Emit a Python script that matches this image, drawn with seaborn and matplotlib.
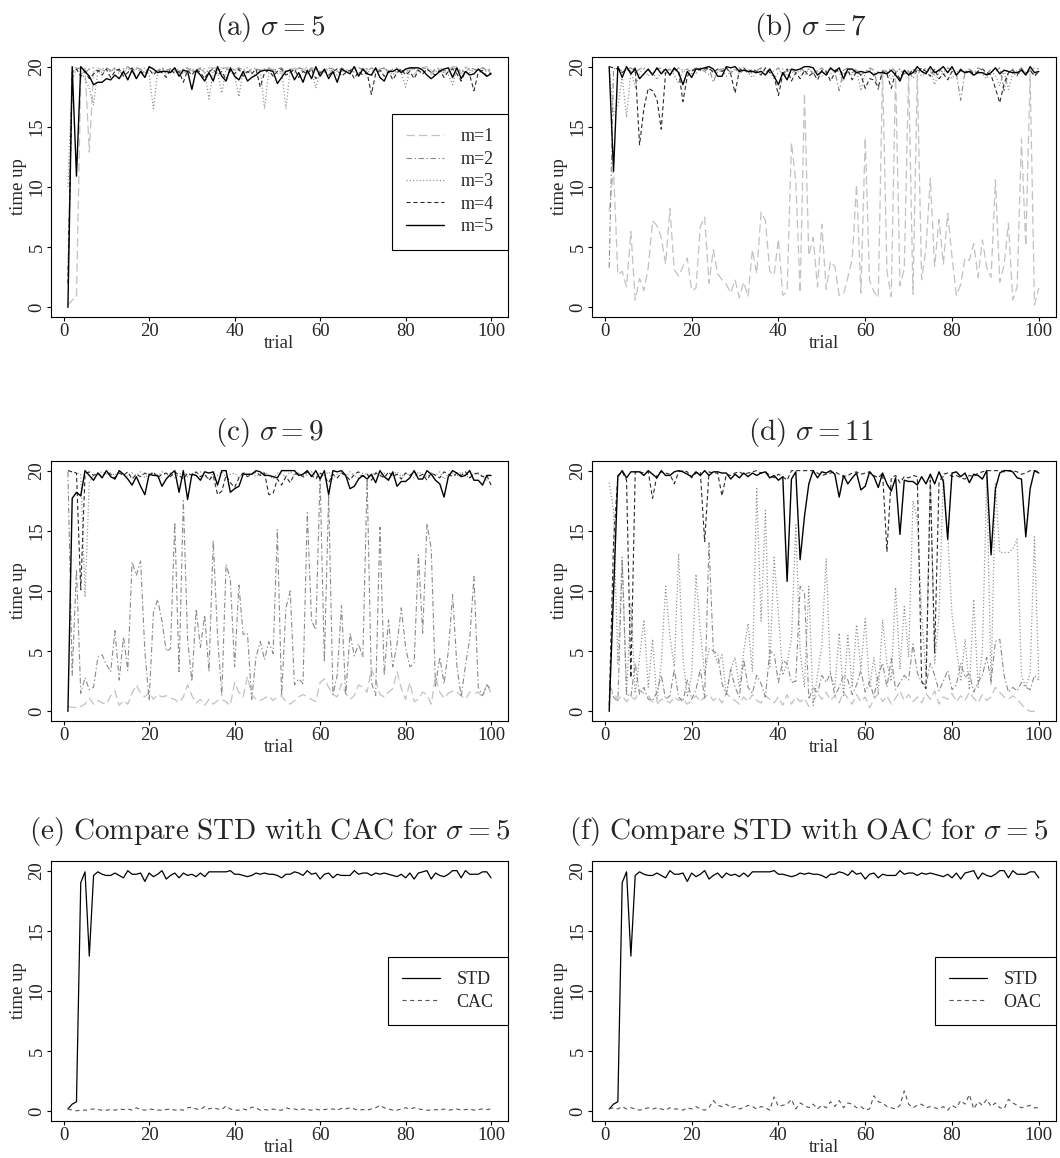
import numpy as np
import pandas as pd
import seaborn as sns
import matplotlib
matplotlib.use("Agg")
import matplotlib.pyplot as plt

sns.set_style("white")
plt.rcParams['font.family'] = ['Liberation Serif', 'DejaVu Serif']
plt.rcParams['mathtext.fontset'] = 'cm'
plt.rcParams['lines.scale_dashes'] = False

trial = list(range(1, 101))
x_ticks = [0, 20, 40, 60, 80, 100]
y_ticks = [0, 5, 10, 15, 20]
series_names = ["m=1", "m=2", "m=3", "m=4", "m=5"]

# ---------------- STD / CAC / OAC (sigma = 5) ----------------
std = [0.2, 0.6, 0.8, 19.0, 19.9, 12.9, 19.6, 19.9, 19.7, 19.6,
       19.6, 19.8, 19.6, 19.4, 20.0, 19.7, 19.7, 19.8, 19.1, 19.8,
       19.5, 19.7, 20.0, 19.3, 19.6, 19.8, 19.4, 19.8, 19.6, 19.7,
       19.5, 19.8, 19.5, 19.9, 19.9, 19.9, 19.9, 19.9, 20.0, 19.7,
       19.7, 19.6, 19.5, 19.6, 19.8, 19.7, 19.8, 19.7, 19.7, 19.6,
       19.4, 19.7, 19.7, 19.9, 19.8, 19.6, 20.0, 19.7, 19.8, 19.3,
       19.7, 19.8, 19.4, 19.7, 19.6, 19.6, 19.6, 20.0, 19.7, 19.8,
       19.8, 19.6, 19.8, 19.7, 19.8, 19.7, 19.6, 19.5, 19.7, 19.4,
       19.8, 19.3, 19.8, 19.9, 20.0, 19.3, 19.8, 19.6, 19.5, 19.7,
       20.0, 20.0, 19.4, 20.0, 19.7, 19.7, 19.7, 19.9, 19.9, 19.4]

cac = [0.20, 0.10, 0.05, 0.10, 0.10, 0.15, 0.20, 0.15, 0.10, 0.10,
       0.15, 0.10, 0.20, 0.15, 0.20, 0.10, 0.30, 0.15, 0.10, 0.20,
       0.15, 0.10, 0.10, 0.15, 0.20, 0.10, 0.15, 0.10, 0.30, 0.35,
       0.20, 0.15, 0.40, 0.20, 0.30, 0.20, 0.15, 0.45, 0.20, 0.10,
       0.10, 0.20, 0.10, 0.35, 0.30, 0.10, 0.15, 0.10, 0.20, 0.10,
       0.10, 0.30, 0.20, 0.20, 0.10, 0.20, 0.15, 0.10, 0.20, 0.10,
       0.15, 0.20, 0.20, 0.10, 0.25, 0.20, 0.30, 0.20, 0.10, 0.15,
       0.10, 0.20, 0.30, 0.50, 0.30, 0.20, 0.10, 0.10, 0.20, 0.30,
       0.20, 0.30, 0.20, 0.15, 0.10, 0.10, 0.15, 0.10, 0.20, 0.10,
       0.15, 0.20, 0.10, 0.15, 0.20, 0.10, 0.15, 0.20, 0.15, 0.20]

oac = [0.20, 0.30, 0.20, 0.40, 0.20, 0.30, 0.20, 0.10, 0.20, 0.30,
       0.20, 0.30, 0.20, 0.10, 0.30, 0.20, 0.20, 0.10, 0.30, 0.20,
       0.40, 0.20, 0.10, 0.30, 0.90, 0.50, 0.40, 0.60, 0.30, 0.40,
       0.20, 0.30, 0.50, 0.40, 0.20, 0.40, 0.30, 0.10, 1.20, 0.40,
       0.50, 0.60, 1.00, 0.20, 0.70, 0.50, 0.30, 0.60, 0.20, 0.50,
       0.30, 0.80, 0.40, 0.90, 0.30, 0.70, 0.60, 0.30, 0.40, 0.10,
       0.20, 1.30, 0.80, 0.70, 0.40, 0.30, 0.20, 0.50, 1.70, 0.60,
       0.30, 0.50, 0.60, 0.30, 0.40, 0.30, 0.20, 0.40, 0.10, 0.50,
       0.30, 0.90, 0.60, 1.40, 0.20, 0.80, 0.50, 1.00, 0.40, 0.70,
       0.30, 0.20, 1.00, 0.70, 0.50, 0.30, 0.40, 0.50, 0.30, 0.30]

# ---------------- (a) sigma = 5 ----------------
a_m1 = std
a_m2 = [3.0, 19.0, 19.8, 19.9, 19.5, 19.8, 19.9, 19.6, 19.8, 19.9,
        19.7, 19.9, 19.6, 19.8, 20.0, 19.7, 19.9, 19.8, 19.5, 19.9,
        19.8, 19.6, 19.9, 19.7, 19.8, 19.9, 19.5, 19.8, 19.9, 19.6,
        19.7, 19.9, 19.8, 19.5, 19.9, 19.7, 19.8, 19.9, 19.6, 19.8,
        19.9, 19.7, 19.5, 19.8, 19.9, 19.6, 19.8, 19.9, 19.7, 19.8,
        19.9, 19.5, 19.8, 19.7, 19.9, 19.8, 19.6, 19.9, 19.8, 19.5,
        19.7, 19.9, 19.8, 19.6, 19.9, 19.7, 19.8, 19.5, 19.9, 19.8,
        19.6, 19.9, 19.7, 19.8, 19.9, 19.5, 19.8, 19.9, 19.7, 19.6,
        19.9, 19.8, 19.7, 19.9, 19.8, 19.5, 19.8, 19.9, 19.7, 19.6,
        19.9, 19.8, 19.7, 19.5, 19.9, 19.8, 19.6, 19.9, 19.7, 19.8]
a_m3 = [10.0, 19.5, 20.0, 19.6, 19.0, 18.2, 16.8, 19.7, 19.5, 19.8,
        19.6, 19.9, 19.4, 19.7, 19.9, 19.5, 19.8, 19.6, 19.9, 19.3,
        16.5, 19.6, 19.8, 19.5, 19.9, 19.6, 19.8, 19.4, 19.7, 19.9,
        19.5, 19.8, 19.6, 17.3, 19.7, 19.5, 17.8, 19.8, 19.6, 19.3,
        17.5, 19.7, 19.9, 19.5, 19.2, 19.8, 16.5, 19.6, 19.8, 19.4,
        19.7, 16.5, 19.8, 19.5, 19.9, 19.6, 19.4, 19.8, 18.2, 19.7,
        19.5, 19.9, 19.6, 19.3, 19.8, 19.5, 19.7, 19.9, 19.4, 19.6,
        19.8, 19.2, 19.7, 19.5, 19.9, 19.6, 19.3, 19.8, 19.5, 18.3,
        19.7, 19.9, 19.6, 19.4, 19.8, 19.7, 19.5, 19.9, 19.6, 19.3,
        18.5, 19.8, 19.6, 19.9, 19.5, 19.7, 19.8, 19.4, 19.7, 19.6]
a_m4 = [2.0, 19.5, 19.8, 19.2, 19.6, 19.0, 19.4, 19.7, 19.3, 19.8,
        19.1, 19.6, 19.8, 19.2, 19.5, 19.9, 19.0, 19.6, 19.4, 19.8,
        19.3, 19.7, 19.5, 19.1, 19.8, 19.4, 19.6, 18.7, 19.7, 19.3,
        19.8, 19.5, 19.0, 19.6, 19.8, 19.3, 19.6, 18.9, 19.7, 19.4,
        19.8, 19.2, 19.6, 19.4, 19.8, 18.3, 19.5, 19.7, 19.2, 19.6,
        19.8, 19.3, 19.5, 19.8, 19.1, 19.6, 19.4, 19.8, 19.0, 19.5,
        19.7, 19.3, 19.6, 19.8, 19.2, 19.5, 19.7, 19.0, 19.6, 19.3,
        19.5, 17.7, 19.4, 19.7, 19.2, 19.6, 18.9, 19.5, 19.8, 19.3,
        19.6, 19.0, 19.7, 19.4, 19.8, 19.5, 19.3, 19.7, 19.1, 19.6,
        19.8, 19.4, 18.8, 19.6, 19.3, 18.0, 19.5, 19.7, 19.2, 19.5]
a_m5 = [0.0, 20.0, 10.9, 20.0, 19.6, 19.2, 18.5, 18.7, 18.7, 19.0,
        18.9, 19.3, 19.0, 19.6, 18.9, 19.7, 19.0, 19.6, 19.1, 20.0,
        19.8, 19.5, 19.6, 19.6, 19.5, 19.9, 19.2, 19.7, 19.6, 18.1,
        19.7, 19.3, 18.8, 19.5, 18.8, 20.0, 19.2, 18.8, 19.9, 19.2,
        18.9, 19.6, 18.8, 19.1, 19.3, 19.6, 19.7, 19.7, 19.6, 18.6,
        19.1, 19.6, 19.7, 18.9, 19.5, 18.7, 19.7, 19.0, 20.0, 19.2,
        19.8, 19.0, 19.6, 18.7, 19.8, 19.6, 19.4, 20.0, 19.2, 19.8,
        19.4, 19.3, 19.9, 19.1, 18.8, 19.6, 19.6, 19.8, 19.5, 19.8,
        19.9, 19.9, 19.9, 19.7, 19.3, 19.0, 19.3, 19.6, 19.8, 19.9,
        19.1, 19.9, 19.0, 19.6, 19.3, 19.4, 19.8, 19.5, 19.2, 19.4]

# ---------------- (b) sigma = 7 ----------------
b_m1 = [8.0, 11.5, 2.7, 3.0, 1.7, 6.3, 0.6, 2.4, 1.4, 3.3,
        7.2, 6.8, 5.8, 3.6, 8.2, 3.1, 2.6, 3.4, 4.1, 1.4,
        1.6, 6.7, 7.5, 2.0, 4.8, 2.8, 2.3, 1.9, 1.2, 2.3,
        0.8, 2.1, 0.9, 4.8, 2.8, 7.9, 7.2, 3.0, 2.7, 5.7,
        1.0, 1.3, 13.7, 10.5, 1.2, 17.8, 4.3, 5.8, 1.7, 6.9,
        1.5, 3.8, 3.4, 1.0, 1.1, 2.5, 4.0, 10.2, 1.2, 14.1,
        2.2, 1.3, 0.8, 19.7, 3.0, 0.9, 19.6, 1.8, 3.2, 19.7,
        1.1, 19.3, 2.3, 4.9, 10.7, 3.4, 7.3, 3.6, 7.8, 4.2,
        1.0, 1.9, 4.1, 3.9, 5.3, 2.5, 5.6, 3.3, 2.5, 10.6,
        2.1, 3.5, 7.0, 0.6, 1.7, 14.0, 5.1, 19.4, 0.2, 1.6]
b_m2 = [3.3, 19.8, 19.9, 19.6, 19.8, 19.9, 19.5, 19.8, 19.9, 19.7,
        19.4, 19.8, 19.9, 19.6, 19.8, 19.5, 19.9, 19.7, 19.8, 19.4,
        19.9, 19.8, 19.6, 19.9, 18.7, 19.7, 19.8, 19.9, 19.5, 19.7,
        19.9, 19.6, 19.8, 19.4, 19.7, 19.9, 19.5, 19.8, 19.6, 19.9,
        19.3, 19.7, 19.8, 19.5, 19.9, 19.6, 19.8, 19.4, 19.7, 19.9,
        19.5, 19.8, 19.6, 18.0, 19.7, 19.9, 19.5, 19.8, 19.3, 19.6,
        19.9, 19.7, 18.1, 19.8, 19.5, 19.9, 19.6, 19.8, 19.4, 19.7,
        19.0, 19.8, 19.5, 19.9, 19.6, 19.3, 19.8, 19.5, 19.9, 19.7,
        19.4, 17.2, 19.6, 19.8, 19.5, 19.9, 19.7, 19.4, 19.8, 19.6,
        19.9, 18.0, 19.5, 19.8, 19.6, 19.9, 19.4, 19.7, 19.9, 19.8]
b_m3 = [19.9, 16.0, 16.7, 19.2, 15.8, 19.6, 18.3, 19.5, 19.8, 19.2,
        19.6, 18.9, 19.7, 19.4, 19.8, 19.3, 18.6, 19.7, 19.5, 19.8,
        19.4, 19.9, 19.6, 19.3, 19.8, 19.5, 19.7, 19.2, 19.6, 19.8,
        19.4, 19.7, 19.5, 19.1, 19.6, 19.8, 19.3, 19.7, 19.0, 19.5,
        19.8, 19.2, 19.6, 19.4, 19.7, 19.3, 19.8, 19.5, 19.6, 19.2,
        19.7, 19.4, 19.8, 19.5, 18.8, 19.6, 19.3, 19.7, 18.0, 19.5,
        19.8, 19.2, 19.6, 19.4, 19.7, 19.0, 19.5, 19.8, 19.3, 19.6,
        19.4, 19.7, 19.2, 19.5, 19.8, 18.5, 19.6, 19.3, 19.7, 19.0,
        19.5, 19.8, 19.4, 19.6, 19.2, 19.7, 19.4, 19.0, 19.6, 19.3,
        18.4, 19.7, 18.1, 19.5, 19.2, 19.8, 19.5, 19.7, 19.3, 19.6]
b_m4 = [20.0, 19.9, 19.8, 19.5, 19.8, 19.6, 19.9, 13.5, 16.5, 18.2,
        18.0, 17.3, 14.8, 19.5, 19.3, 19.8, 19.6, 17.1, 19.2, 19.6,
        19.9, 19.7, 19.8, 19.9, 19.5, 19.8, 19.6, 19.9, 19.4, 17.8,
        19.7, 19.9, 19.5, 19.8, 19.6, 19.3, 19.9, 19.5, 19.2, 17.6,
        19.4, 19.8, 18.8, 19.5, 19.0, 19.7, 19.2, 19.5, 18.9, 19.7,
        19.6, 18.8, 19.5, 19.8, 19.3, 19.7, 18.9, 19.6, 19.3, 18.2,
        19.0, 18.9, 18.3, 19.6, 19.4, 18.2, 19.5, 19.0, 19.7, 19.3,
        19.8, 19.5, 19.9, 19.6, 19.2, 19.8, 19.0, 19.4, 18.9, 19.6,
        19.3, 19.8, 19.5, 19.7, 19.4, 19.6, 19.8, 19.5, 19.3, 18.2,
        17.0, 18.6, 19.5, 19.7, 19.3, 19.8, 19.4, 19.7, 19.2, 19.6]
b_m5 = [20.0, 11.3, 20.0, 19.1, 20.0, 19.4, 19.8, 19.0, 19.4, 19.8,
        19.3, 19.9, 19.4, 19.8, 19.3, 19.9, 19.5, 18.5, 19.6, 19.1,
        19.8, 19.8, 19.9, 20.0, 19.8, 19.2, 19.2, 20.0, 19.9, 20.0,
        19.6, 19.7, 19.6, 19.6, 19.5, 19.6, 19.3, 19.8, 19.2, 18.5,
        19.5, 18.9, 19.8, 19.7, 19.8, 20.0, 20.0, 19.9, 19.3, 19.6,
        19.3, 19.9, 19.6, 19.9, 19.0, 19.8, 19.8, 19.5, 19.6, 19.5,
        19.6, 19.3, 19.5, 19.5, 19.4, 19.7, 19.3, 18.8, 19.7, 19.3,
        19.5, 20.0, 19.6, 19.4, 20.0, 19.5, 19.7, 20.0, 19.5, 20.0,
        19.3, 19.7, 19.5, 19.6, 19.3, 19.5, 19.5, 19.3, 19.5, 19.9,
        19.4, 19.7, 19.6, 19.5, 19.5, 19.7, 19.3, 20.0, 19.5, 19.6]

# ---------------- (c) sigma = 9 ----------------
c_m1 = [0.4, 0.35, 0.3, 0.4, 0.6, 1.1, 0.6, 0.9, 0.7, 0.6,
        1.3, 1.7, 0.5, 0.9, 0.6, 1.5, 2.2, 1.5, 1.2, 1.6,
        1.0, 1.4, 1.2, 1.3, 1.1, 1.0, 0.7, 1.2, 2.2, 1.3,
        0.7, 1.0, 0.5, 1.0, 0.6, 0.9, 1.0, 0.8, 0.5, 2.4,
        1.6, 1.2, 2.9, 1.4, 1.0, 0.9, 1.1, 1.3, 0.9, 1.2,
        1.3, 0.8, 0.6, 0.9, 1.2, 1.4, 1.2, 1.0, 0.8, 2.4,
        2.7, 2.0, 1.4, 1.2, 2.3, 1.5, 1.0, 1.3, 2.2, 2.0,
        1.6, 3.5, 2.6, 1.4, 1.2, 1.6, 1.9, 3.3, 1.9, 1.0,
        2.4, 0.8, 1.0, 1.6, 1.4, 0.6, 2.9, 1.6, 1.1, 1.5,
        1.7, 1.6, 1.3, 1.0, 1.6, 1.5, 1.6, 1.2, 2.3, 1.5]
c_m2 = [19.9, 3.0, 11.8, 1.5, 2.8, 1.8, 2.0, 4.5, 4.7, 3.9,
        3.3, 6.7, 2.6, 6.2, 3.4, 12.4, 11.3, 12.5, 5.0, 0.9,
        8.2, 9.3, 7.5, 5.0, 5.2, 15.7, 3.3, 17.5, 6.0, 2.5,
        8.5, 5.3, 8.0, 3.3, 14.2, 6.3, 1.3, 12.2, 11.0, 3.7,
        10.5, 6.4, 6.5, 1.0, 4.5, 5.8, 4.3, 5.8, 4.8, 15.1,
        1.3, 8.6, 10.0, 2.2, 2.7, 2.3, 16.5, 7.5, 6.8, 19.5,
        4.1, 18.0, 1.4, 3.0, 8.8, 1.4, 6.5, 4.6, 5.6, 4.5,
        19.3, 2.4, 1.3, 15.3, 3.0, 7.6, 3.7, 5.6, 8.6, 5.3,
        3.7, 4.0, 13.0, 6.5, 15.6, 13.5, 2.1, 4.5, 2.3, 5.0,
        9.7, 3.8, 1.2, 3.8, 6.0, 11.2, 2.0, 1.3, 2.2, 1.8]
c_m3 = [20.0, 19.9, 19.8, 19.7, 9.5, 19.0, 19.6, 19.8, 19.9, 19.7,
        19.8, 19.6, 19.9, 19.7, 19.5, 19.8, 19.6, 19.9, 19.4, 19.7,
        19.8, 19.5, 19.9, 19.6, 19.8, 19.4, 19.7, 19.9, 19.5, 19.8,
        19.6, 19.9, 19.7, 19.3, 19.8, 19.6, 19.9, 19.5, 19.7, 19.8,
        19.4, 19.9, 19.6, 19.8, 19.5, 19.7, 19.9, 19.6, 19.3, 19.8,
        19.7, 19.5, 19.9, 19.6, 19.8, 19.4, 19.7, 19.9, 19.5, 19.8,
        19.6, 19.9, 19.3, 19.7, 19.8, 19.5, 19.9, 19.6, 19.4, 19.8,
        19.7, 19.5, 19.9, 19.6, 19.8, 19.3, 19.7, 19.9, 19.5, 19.8,
        19.6, 19.4, 19.9, 19.7, 19.5, 19.8, 19.6, 19.9, 19.3, 19.7,
        19.8, 19.5, 19.9, 19.6, 19.4, 19.8, 19.7, 19.5, 19.2, 19.0]
c_m4 = [20.0, 19.9, 19.8, 10.1, 19.7, 19.9, 19.6, 19.8, 19.5, 19.9,
        19.7, 19.4, 19.8, 19.6, 19.9, 19.3, 19.7, 19.5, 19.8, 19.6,
        19.9, 19.4, 19.7, 19.8, 19.5, 19.9, 19.6, 19.3, 19.8, 19.6,
        19.9, 19.5, 19.7, 19.2, 19.6, 18.0, 18.3, 19.6, 19.0, 18.6,
        19.4, 19.8, 19.5, 19.7, 19.9, 19.6, 19.8, 18.0, 18.1, 19.3,
        18.8, 19.5, 19.0, 19.7, 19.8, 19.5, 19.9, 19.6, 19.3, 19.8,
        19.5, 19.0, 19.7, 19.4, 19.8, 19.6, 19.2, 19.7, 19.9, 19.5,
        19.7, 19.2, 19.8, 19.6, 19.4, 19.9, 19.5, 19.7, 19.3, 19.8,
        19.6, 19.9, 19.5, 19.7, 19.2, 19.8, 19.6, 19.4, 19.9, 19.7,
        19.5, 19.8, 19.6, 19.9, 19.4, 19.7, 19.8, 19.5, 19.6, 18.8]
c_m5 = [0.0, 17.7, 18.2, 17.9, 20.0, 19.6, 19.2, 19.8, 19.4, 20.0,
        19.5, 19.3, 20.0, 19.7, 19.3, 18.8, 19.5, 18.7, 18.0, 19.7,
        19.6, 19.6, 18.7, 19.3, 19.7, 20.0, 18.2, 20.0, 17.6, 19.7,
        19.6, 19.2, 19.9, 19.8, 19.9, 18.8, 20.0, 20.0, 18.2, 18.5,
        18.7, 19.7, 19.7, 19.7, 20.0, 19.9, 19.6, 19.6, 19.5, 19.4,
        20.0, 20.0, 20.0, 20.0, 19.6, 19.7, 20.0, 19.5, 20.0, 19.3,
        20.0, 18.0, 20.0, 19.9, 20.0, 19.6, 18.5, 18.7, 19.3, 19.6,
        19.3, 19.7, 19.0, 20.0, 19.5, 19.2, 19.9, 18.7, 19.1, 19.1,
        19.4, 20.0, 19.3, 19.3, 20.0, 19.7, 19.2, 18.9, 17.8, 19.5,
        20.0, 19.8, 19.5, 19.6, 20.0, 19.2, 19.2, 18.8, 19.6, 19.6]

# ---------------- (d) sigma = 11 ----------------
d_m1 = [2.2, 1.5, 1.0, 1.3, 0.8, 1.2, 1.0, 1.8, 1.5, 1.3,
        0.8, 0.6, 1.0, 0.9, 0.7, 1.2, 0.9, 1.1, 0.6, 0.9,
        1.3, 0.8, 1.2, 1.4, 0.9, 1.2, 0.7, 1.5, 1.1, 0.9,
        0.6, 1.2, 0.8, 1.4, 0.9, 0.7, 1.3, 1.0, 0.7, 1.2,
        0.5, 1.4, 0.6, 1.2, 0.8, 1.1, 0.4, 0.8, 1.5, 1.0,
        1.6, 0.9, 1.3, 0.7, 1.6, 1.1, 0.6, 1.4, 0.8, 1.2,
        0.3, 1.0, 1.5, 0.8, 1.3, 0.6, 1.1, 1.7, 0.9, 1.4,
        0.8, 1.2, 0.7, 1.5, 1.0, 1.7, 0.6, 1.2, 1.0, 1.5,
        0.8, 1.3, 0.9, 1.6, 1.1, 0.7, 1.4, 0.9, 1.2, 2.0,
        1.6, 1.2, 1.0, 1.3, 1.0, 0.6, 0.2, 0.0, 0.0, 0.0]
d_m2 = [2.2, 1.2, 0.8, 12.5, 1.5, 1.2, 4.0, 1.4, 2.0, 1.0,
        0.9, 1.6, 3.0, 1.0, 1.3, 3.5, 1.2, 0.8, 2.6, 1.0,
        1.8, 3.5, 1.1, 14.0, 5.0, 4.8, 2.3, 1.4, 3.5, 2.0,
        1.2, 4.3, 2.0, 1.5, 3.0, 2.3, 1.2, 5.0, 4.8, 2.4,
        4.2, 4.0, 2.4, 2.5, 10.4, 9.8, 1.0, 2.0, 1.5, 3.0,
        2.4, 3.2, 1.3, 2.0, 3.0, 2.6, 1.4, 2.2, 3.4, 1.6,
        2.5, 1.2, 3.0, 4.0, 2.0, 4.4, 1.8, 2.4, 3.0, 2.6,
        5.6, 3.2, 2.4, 2.2, 4.0, 3.0, 1.7, 2.5, 3.4, 1.8,
        2.2, 4.0, 2.8, 3.2, 1.6, 2.4, 3.0, 4.5, 2.5, 5.8,
        6.0, 3.0, 1.6, 2.0, 1.7, 2.4, 2.0, 1.8, 3.0, 2.6]
d_m3 = [19.0, 16.7, 4.0, 12.8, 1.3, 9.0, 1.5, 4.5, 7.6, 2.0,
        6.0, 0.8, 4.0, 10.4, 6.2, 3.7, 13.1, 4.5, 1.2, 3.0,
        11.4, 6.7, 3.0, 5.2, 5.0, 4.0, 4.7, 1.3, 3.5, 4.5,
        2.0, 5.0, 7.3, 3.3, 18.5, 7.5, 16.7, 3.7, 12.8, 8.0,
        3.0, 4.0, 6.0, 15.5, 5.0, 2.0, 10.4, 0.5, 3.0, 5.5,
        12.7, 3.0, 2.0, 6.5, 1.2, 6.3, 2.0, 7.2, 3.5, 7.7,
        2.0, 4.5, 1.5, 7.6, 4.0, 2.5, 10.3, 3.5, 8.7, 4.5,
        17.5, 15.9, 8.0, 3.0, 19.7, 4.0, 8.0, 19.5, 14.7, 8.0,
        5.2, 2.5, 6.0, 1.8, 9.3, 2.0, 5.0, 19.5, 2.2, 19.0,
        13.2, 13.2, 13.2, 13.5, 14.3, 3.0, 2.0, 3.2, 14.5, 2.8]
d_m4 = [0.5, 14.0, 19.6, 19.9, 19.2, 2.8, 19.9, 19.9, 19.8, 19.9,
        17.7, 19.6, 19.9, 19.8, 19.7, 18.9, 19.9, 20.0, 19.9, 19.4,
        19.8, 19.9, 14.1, 19.9, 19.8, 19.8, 17.9, 19.7, 19.6, 19.8,
        19.9, 19.7, 19.8, 19.9, 20.0, 19.8, 19.9, 19.6, 19.4, 19.7,
        19.5, 19.2, 20.0, 20.0, 20.0, 20.0, 20.0, 20.0, 19.8, 19.6,
        19.7, 19.8, 19.9, 19.7, 19.5, 19.6, 19.8, 19.9, 19.7, 19.8,
        19.9, 19.6, 19.4, 19.8, 13.3, 19.4, 19.6, 19.0, 19.5, 19.4,
        19.6, 19.5, 2.5, 1.9, 19.2, 4.9, 19.0, 19.7, 19.8, 19.5,
        19.6, 19.4, 19.3, 19.6, 19.5, 19.8, 19.9, 20.0, 20.0, 20.0,
        20.0, 19.9, 20.0, 20.0, 19.9, 19.7, 19.8, 20.0, 20.0, 19.9]
d_m5 = [0.0, 9.8, 19.5, 20.0, 19.4, 19.9, 19.9, 19.9, 19.6, 20.0,
        19.7, 19.4, 20.0, 19.6, 19.6, 19.9, 20.0, 19.9, 19.7, 19.5,
        19.9, 19.6, 20.0, 19.6, 19.9, 19.9, 19.8, 19.8, 19.3, 19.7,
        19.4, 19.8, 19.5, 19.8, 19.6, 19.8, 19.9, 19.4, 19.6, 19.2,
        19.5, 10.8, 19.3, 19.9, 12.6, 16.2, 18.9, 20.0, 19.4, 19.9,
        19.8, 20.0, 19.7, 17.8, 19.6, 18.9, 19.4, 19.8, 18.4, 18.7,
        19.9, 19.5, 18.6, 19.8, 18.9, 18.3, 19.4, 14.7, 19.2, 19.1,
        19.1, 18.8, 19.5, 18.9, 19.7, 18.9, 19.9, 19.1, 14.3, 19.8,
        19.9, 19.5, 19.8, 19.0, 19.7, 19.6, 19.3, 20.0, 13.0, 18.5,
        19.8, 20.0, 20.0, 19.9, 19.4, 19.3, 14.5, 18.5, 20.0, 19.8]

panels_m = {
    "a": [a_m1, a_m2, a_m3, a_m4, a_m5],
    "b": [b_m1, b_m2, b_m3, b_m4, b_m5],
    "c": [c_m1, c_m2, c_m3, c_m4, c_m5],
    "d": [d_m1, d_m2, d_m3, d_m4, d_m5],
}
for k, lst in panels_m.items():
    for s in lst:
        assert len(s) == 100, (k, len(s))
for s in (std, cac, oac):
    assert len(s) == 100

m_styles = [
    dict(color="#c2c2c2", linestyle=(0, (6, 3)), linewidth=0.9),
    dict(color="#8a8a8a", linestyle=(0, (4, 1.8, 1, 1.8)), linewidth=0.8),
    dict(color="#8c8c8c", linestyle=(0, (0.8, 1.6)), linewidth=0.9),
    dict(color="#2a2a2a", linestyle=(0, (3, 2)), linewidth=0.8),
    dict(color="black", linestyle="-", linewidth=1.0),
]

W, H = 1060, 1158
fig = plt.figure(figsize=(W / 100, H / 100), dpi=100)

col_left = [(51, 508), (592, 1056)]
row_tops = [57, 461, 861]
ax_h = 260


def make_ax(col, row):
    x0, x1 = col_left[col]
    top = row_tops[row]
    return fig.add_axes([x0 / W, 1 - (top + ax_h) / H, (x1 - x0) / W, ax_h / H])


def style_ax(ax):
    ax.set_xlim(-2.96, 103.96)
    ax.set_ylim(-0.8, 20.8)
    ax.set_xticks(x_ticks)
    ax.set_xticklabels([str(v) for v in x_ticks])
    ax.set_yticks(y_ticks)
    ax.set_yticklabels([str(v) for v in y_ticks], rotation=90, va="center")
    for sp in ax.spines.values():
        sp.set_visible(True)
        sp.set_color("black")
        sp.set_linewidth(0.8)
    ax.tick_params(axis="both", which="major", direction="out", length=3,
                   width=0.8, color="black", labelsize=13.5, pad=1.0,
                   bottom=True, left=True, top=False, right=False)
    ax.set_xlabel("trial", fontsize=13.5, labelpad=-3)
    ax.set_ylabel("time up", fontsize=13.5, labelpad=1)


def legend_box(ax, y_anchor):
    leg = ax.legend(loc="center right", bbox_to_anchor=(1.0, y_anchor),
                    borderaxespad=0, frameon=True, fancybox=False,
                    edgecolor="black", framealpha=1, fontsize=13,
                    handlelength=2.1, handletextpad=0.9, labelspacing=0.3,
                    borderpad=0.8)
    leg.get_frame().set_linewidth(0.8)


layout = [("a", 0, 0), ("b", 1, 0), ("c", 0, 1), ("d", 1, 1)]
for key, col, row in layout:
    ax = make_ax(col, row)
    for name, vals, st in zip(series_names, panels_m[key], m_styles):
        df = pd.DataFrame({"trial": trial, "time up": vals})
        sns.lineplot(data=df, x="trial", y="time up", ax=ax, label=name,
                     legend=False, **st)
    style_ax(ax)
    if key == "a":
        legend_box(ax, 0.52)

for col, other, lab in [(0, cac, "CAC"), (1, oac, "OAC")]:
    ax = make_ax(col, 2)
    df1 = pd.DataFrame({"trial": trial, "time up": std})
    df2 = pd.DataFrame({"trial": trial, "time up": other})
    sns.lineplot(data=df1, x="trial", y="time up", ax=ax, label="STD",
                 legend=False, color="black", linewidth=0.9)
    sns.lineplot(data=df2, x="trial", y="time up", ax=ax, label=lab,
                 legend=False, color="#555555", linewidth=0.8,
                 linestyle=(0, (3, 2.5)))
    style_ax(ax)
    legend_box(ax, 0.5)

titles = [
    (270, 28, r"$\mathrm{(a)}\ \sigma = 5$"),
    (811, 28, r"$\mathrm{(b)}\ \sigma = 7$"),
    (270, 433, r"$\mathrm{(c)}\ \sigma = 9$"),
    (811, 433, r"$\mathrm{(d)}\ \sigma = 11$"),
    (270, 831, r"$\mathrm{(e)\ Compare\ STD\ with\ CAC\ for}\ \sigma = 5$"),
    (809, 831, r"$\mathrm{(f)\ Compare\ STD\ with\ OAC\ for}\ \sigma = 5$"),
]
for x, y, t in titles:
    fig.text(x / W, 1 - y / H, t, ha="center", va="center", fontsize=21)

fig.savefig("out.png", dpi=100, facecolor="white")
